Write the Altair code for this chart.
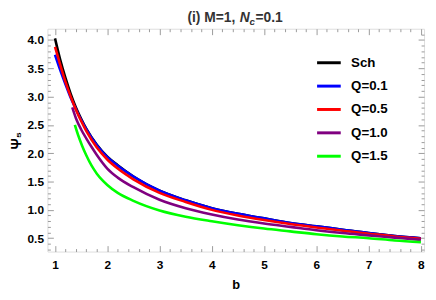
import altair as alt
import pandas as pd

# ---- data ----
series_names = ["Sch", "Q=0.1", "Q=0.5", "Q=1.0", "Q=1.5"]
series_colors = ["#000000", "#0000ff", "#ff0000", "#800080", "#00ff00"]

b_full = [1.0, 1.1, 1.2, 1.3, 1.4, 1.5, 1.6, 1.8, 2.0, 2.2, 2.5, 3.0, 3.5, 4.0, 4.5, 5.0, 5.5, 6.0, 6.5, 7.0, 7.5, 8.0]
psi_sch = [4.03, 3.65, 3.33, 3.05, 2.81, 2.61, 2.43, 2.15, 1.94, 1.79, 1.59, 1.34, 1.17, 1.03, 0.93, 0.85, 0.77, 0.71, 0.65, 0.59, 0.54, 0.50]
psi_q01 = [3.74, 3.47, 3.22, 2.98, 2.78, 2.59, 2.42, 2.14, 1.93, 1.78, 1.59, 1.34, 1.17, 1.03, 0.93, 0.85, 0.77, 0.71, 0.65, 0.59, 0.54, 0.50]
psi_q05 = [3.88, 3.56, 3.26, 3.00, 2.77, 2.57, 2.39, 2.10, 1.89, 1.73, 1.54, 1.30, 1.14, 1.00, 0.90, 0.82, 0.75, 0.69, 0.63, 0.58, 0.53, 0.49]
b_q10 = [1.33, 1.4, 1.5, 1.6, 1.7, 1.8, 2.0, 2.2, 2.5, 3.0, 3.5, 4.0, 4.5, 5.0, 5.5, 6.0, 6.5, 7.0, 7.5, 8.0]
psi_q10 = [2.81, 2.62, 2.42, 2.26, 2.11, 1.97, 1.73, 1.57, 1.40, 1.18, 1.03, 0.92, 0.83, 0.76, 0.70, 0.64, 0.59, 0.55, 0.51, 0.47]
b_q15 = [1.38, 1.45, 1.52, 1.6, 1.7, 1.8, 1.9, 2.0, 2.2, 2.5, 3.0, 3.5, 4.0, 4.5, 5.0, 5.5, 6.0, 6.5, 7.0, 7.5, 8.0]
psi_q15 = [2.50, 2.30, 2.13, 1.96, 1.78, 1.64, 1.53, 1.44, 1.30, 1.16, 0.99, 0.88, 0.80, 0.73, 0.67, 0.62, 0.57, 0.53, 0.50, 0.46, 0.43]

x_major = [1, 2, 3, 4, 5, 6, 7, 8]
x_minor = [1.2, 1.4, 1.6, 1.8, 2.2, 2.4, 2.6, 2.8, 3.2, 3.4, 3.6, 3.8, 4.2, 4.4, 4.6, 4.8,
           5.2, 5.4, 5.6, 5.8, 6.2, 6.4, 6.6, 6.8, 7.2, 7.4, 7.6, 7.8]
y_major = [0.5, 1.0, 1.5, 2.0, 2.5, 3.0, 3.5, 4.0]
y_minor = [0.3, 0.4, 0.6, 0.7, 0.8, 0.9, 1.1, 1.2, 1.3, 1.4, 1.6, 1.7, 1.8, 1.9, 2.1, 2.2, 2.3, 2.4,
           2.6, 2.7, 2.8, 2.9, 3.1, 3.2, 3.3, 3.4, 3.6, 3.7, 3.8, 3.9, 4.1]
x_domain = [0.855, 8.06]
y_domain = [0.264, 4.20]

title_parts = ["(i) M=1, ", "N", "c", "=0.1"]

FONT = "Liberation Sans"
GRAY = "#9a9a9a"

frames = [
    pd.DataFrame({"b": b_full, "psi": psi_sch, "series": "Sch"}),
    pd.DataFrame({"b": b_full, "psi": psi_q01, "series": "Q=0.1"}),
    pd.DataFrame({"b": b_full, "psi": psi_q05, "series": "Q=0.5"}),
    pd.DataFrame({"b": b_q10, "psi": psi_q10, "series": "Q=1.0"}),
    pd.DataFrame({"b": b_q15, "psi": psi_q15, "series": "Q=1.5"}),
]

xs = alt.Scale(domain=x_domain, nice=False, zero=False)
ys = alt.Scale(domain=y_domain, nice=False, zero=False)
cs = alt.Scale(domain=series_names, range=series_colors)

lab = dict(labelFont=FONT, labelFontWeight="bold", labelFontSize=12, labelColor="#000000")

x_main_axis = alt.Axis(orient="bottom", values=x_major, format="d", tickSize=6, offset=-6,
                       domain=False, grid=False, tickColor=GRAY, labelPadding=8,
                       title="b", titleFont=FONT, titleFontWeight="bold", titleFontSize=13,
                       titleColor="#000000", titleX=191, titleY=43, titleBaseline="alphabetic",
                       **lab)
y_main_axis = alt.Axis(orient="left", values=y_major, format=".1f", tickSize=6, offset=-6,
                       domain=False, grid=False, tickColor=GRAY, labelPadding=4,
                       title="Ψ₅", titleFont=FONT, titleFontWeight="bold", titleFontSize=14,
                       titleColor="#000000", titleX=-37, titleY=113, titleAngle=270,
                       titleAlign="center", titleBaseline="middle", **lab)

legend = alt.Legend(title=None, orient="none", legendX=272, legendY=21, symbolType="stroke",
                    symbolSize=576, symbolStrokeWidth=3, labelFont=FONT, labelFontWeight="bold",
                    labelFontSize=13.5, labelColor="#000000", rowPadding=3.7, labelOffset=9,
                    padding=0)

layers = []
for i, df in enumerate(frames):
    if i == 0:
        xenc = alt.X("b:Q", scale=xs, axis=x_main_axis)
        yenc = alt.Y("psi:Q", scale=ys, axis=y_main_axis)
        cenc = alt.Color("series:N", scale=cs, legend=legend)
    else:
        xenc = alt.X("b:Q", scale=xs, axis=None)
        yenc = alt.Y("psi:Q", scale=ys, axis=None)
        cenc = alt.Color("series:N", scale=cs, legend=None)
    layers.append(
        alt.Chart(df).mark_line(strokeWidth=2.6, interpolate="monotone", clip=True)
        .encode(x=xenc, y=yenc, color=cenc)
    )


def tick_axis(orient, values, size):
    return alt.Axis(orient=orient, values=values, tickSize=size, offset=-size, domain=False,
                    grid=False, labels=False, title=None, tickColor=GRAY)


def axis_layer(xo, xv, xsz, yo, yv, ysz):
    return alt.Chart(frames[0]).mark_point(opacity=0).encode(
        x=alt.X("b:Q", scale=xs, axis=tick_axis(xo, xv, xsz)),
        y=alt.Y("psi:Q", scale=ys, axis=tick_axis(yo, yv, ysz)),
    )


layers.append(axis_layer("bottom", x_minor, 3, "left", y_minor, 3))
layers.append(axis_layer("top", x_major, 6, "right", y_major, 6))
layers.append(axis_layer("top", x_minor, 3, "right", y_minor, 3))

# title pieces (rich text: italic N with subscript c)
TY = -7
tdf = pd.DataFrame({"t": title_parts})
tstyle = dict(font=FONT, fontWeight="bold", color="#333333", align="left", baseline="alphabetic")
layers.append(alt.Chart(tdf.iloc[[0]]).mark_text(fontSize=14, **tstyle)
              .encode(x=alt.value(142), y=alt.value(TY), text="t:N"))
layers.append(alt.Chart(tdf.iloc[[1]]).mark_text(fontSize=14, fontStyle="italic", **tstyle)
              .encode(x=alt.value(195), y=alt.value(TY), text="t:N"))
layers.append(alt.Chart(tdf.iloc[[2]]).mark_text(fontSize=10, fontStyle="italic", **tstyle)
              .encode(x=alt.value(205), y=alt.value(TY + 3), text="t:N"))
layers.append(alt.Chart(tdf.iloc[[3]]).mark_text(fontSize=14, **tstyle)
              .encode(x=alt.value(211), y=alt.value(TY), text="t:N"))

chart = (
    alt.layer(*layers)
    .resolve_axis(x="independent", y="independent")
    .properties(width=382, height=226,
                autosize=alt.AutoSizeParams(type="none"),
                padding={"left": 40, "top": 19, "right": 4, "bottom": 39})
    .configure_view(stroke=GRAY, strokeWidth=1)
    .configure(background="#ffffff")
)

chart.save("out.html", embed_options={"renderer": "svg", "actions": False})
